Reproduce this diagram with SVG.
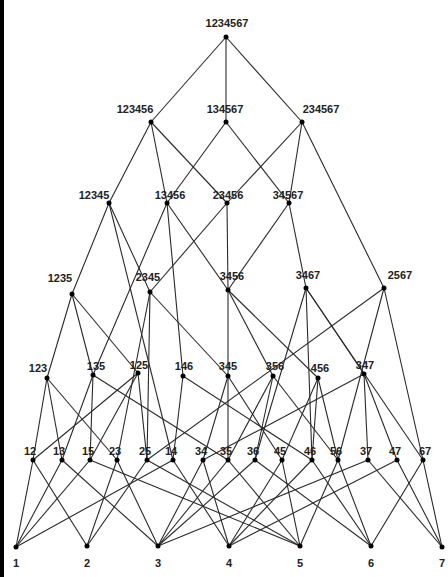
<svg xmlns="http://www.w3.org/2000/svg" width="448" height="577" viewBox="0 0 448 577">
<style>
.e line{stroke:#2a2a2a;stroke-width:1.1}
.n circle{fill:#000}
.n text{font-family:"Liberation Sans",Arial,sans-serif;font-size:11px;font-weight:bold;fill:#222;text-anchor:middle}
</style>
<rect width="448" height="577" fill="#fff"/>
<rect x="0" y="0" width="4" height="577" fill="#000"/>
<g id="connectors" class="e">
<line x1="226" y1="37" x2="151" y2="122"/><line x1="226" y1="37" x2="226" y2="122"/><line x1="226" y1="37" x2="302" y2="122"/>
<line x1="151" y1="122" x2="109" y2="203"/><line x1="151" y1="122" x2="167" y2="203"/><line x1="151" y1="122" x2="227" y2="203"/>
<line x1="226" y1="122" x2="167" y2="203"/><line x1="226" y1="122" x2="289" y2="203"/>
<line x1="302" y1="122" x2="227" y2="203"/><line x1="302" y1="122" x2="289" y2="203"/><line x1="302" y1="122" x2="384" y2="288"/>
<line x1="109" y1="203" x2="72" y2="294"/><line x1="109" y1="203" x2="150" y2="292"/><line x1="109" y1="203" x2="173" y2="460"/>
<line x1="167" y1="203" x2="228" y2="290"/><line x1="167" y1="203" x2="93" y2="375"/><line x1="167" y1="203" x2="183" y2="376"/>
<line x1="227" y1="203" x2="150" y2="292"/><line x1="227" y1="203" x2="228" y2="290"/>
<line x1="289" y1="203" x2="228" y2="290"/><line x1="289" y1="203" x2="306" y2="288"/>
<line x1="72" y1="294" x2="47" y2="378"/><line x1="72" y1="294" x2="93" y2="375"/><line x1="72" y1="294" x2="138" y2="373"/>
<line x1="150" y1="292" x2="228" y2="376"/><line x1="150" y1="292" x2="117" y2="460"/><line x1="150" y1="292" x2="147" y2="460"/>
<line x1="228" y1="290" x2="228" y2="376"/><line x1="228" y1="290" x2="273" y2="376"/><line x1="228" y1="290" x2="318" y2="378"/>
<line x1="306" y1="288" x2="364" y2="374"/><line x1="306" y1="288" x2="255" y2="460"/><line x1="306" y1="288" x2="312" y2="460"/><line x1="306" y1="288" x2="423" y2="460"/>
<line x1="384" y1="288" x2="147" y2="460"/><line x1="384" y1="288" x2="338" y2="460"/><line x1="384" y1="288" x2="423" y2="460"/>
<line x1="47" y1="378" x2="33" y2="460"/><line x1="47" y1="378" x2="62" y2="460"/><line x1="47" y1="378" x2="117" y2="460"/>
<line x1="93" y1="375" x2="62" y2="460"/><line x1="93" y1="375" x2="90" y2="460"/><line x1="93" y1="375" x2="228" y2="460"/>
<line x1="138" y1="373" x2="33" y2="460"/><line x1="138" y1="373" x2="90" y2="460"/><line x1="138" y1="373" x2="147" y2="460"/>
<line x1="183" y1="376" x2="173" y2="460"/><line x1="183" y1="376" x2="312" y2="460"/>
<line x1="228" y1="376" x2="203" y2="460"/><line x1="228" y1="376" x2="228" y2="460"/><line x1="228" y1="376" x2="282" y2="460"/>
<line x1="273" y1="376" x2="228" y2="460"/><line x1="273" y1="376" x2="255" y2="460"/><line x1="273" y1="376" x2="338" y2="460"/>
<line x1="318" y1="378" x2="282" y2="460"/><line x1="318" y1="378" x2="312" y2="460"/><line x1="318" y1="378" x2="338" y2="460"/>
<line x1="364" y1="374" x2="203" y2="460"/><line x1="364" y1="374" x2="368" y2="460"/><line x1="364" y1="374" x2="397" y2="460"/>
<line x1="33" y1="460" x2="16" y2="547"/><line x1="33" y1="460" x2="87" y2="546"/>
<line x1="62" y1="460" x2="16" y2="547"/><line x1="62" y1="460" x2="158" y2="546"/>
<line x1="90" y1="460" x2="16" y2="547"/><line x1="90" y1="460" x2="300" y2="546"/>
<line x1="117" y1="460" x2="87" y2="546"/><line x1="117" y1="460" x2="158" y2="546"/>
<line x1="147" y1="460" x2="87" y2="546"/><line x1="147" y1="460" x2="300" y2="546"/>
<line x1="173" y1="460" x2="16" y2="547"/><line x1="173" y1="460" x2="229" y2="546"/>
<line x1="203" y1="460" x2="158" y2="546"/><line x1="203" y1="460" x2="229" y2="546"/>
<line x1="228" y1="460" x2="158" y2="546"/><line x1="228" y1="460" x2="300" y2="546"/>
<line x1="255" y1="460" x2="158" y2="546"/><line x1="255" y1="460" x2="371" y2="546"/>
<line x1="282" y1="460" x2="229" y2="546"/><line x1="282" y1="460" x2="300" y2="546"/>
<line x1="312" y1="460" x2="229" y2="546"/><line x1="312" y1="460" x2="371" y2="546"/>
<line x1="338" y1="460" x2="300" y2="546"/><line x1="338" y1="460" x2="371" y2="546"/>
<line x1="368" y1="460" x2="158" y2="546"/><line x1="368" y1="460" x2="442" y2="547"/>
<line x1="397" y1="460" x2="229" y2="546"/><line x1="397" y1="460" x2="442" y2="547"/>
<line x1="423" y1="460" x2="371" y2="546"/><line x1="423" y1="460" x2="442" y2="547"/>
</g>
<g id="n1234567" class="n"><circle cx="226" cy="37" r="2.5"/><text x="227" y="27">1234567</text></g>
<g id="n123456" class="n"><circle cx="151" cy="122" r="2.5"/><text x="135" y="113">123456</text></g>
<g id="n134567" class="n"><circle cx="226" cy="122" r="2.5"/><text x="225" y="113">134567</text></g>
<g id="n234567" class="n"><circle cx="302" cy="122" r="2.5"/><text x="321" y="113">234567</text></g>
<g id="n12345" class="n"><circle cx="109" cy="203" r="2.5"/><text x="94" y="199">12345</text></g>
<g id="n13456" class="n"><circle cx="167" cy="203" r="2.5"/><text x="170" y="199">13456</text></g>
<g id="n23456" class="n"><circle cx="227" cy="203" r="2.5"/><text x="228" y="199">23456</text></g>
<g id="n34567" class="n"><circle cx="289" cy="203" r="2.5"/><text x="288" y="199">34567</text></g>
<g id="n1235" class="n"><circle cx="72" cy="294" r="2.5"/><text x="60" y="282">1235</text></g>
<g id="n2345" class="n"><circle cx="150" cy="292" r="2.5"/><text x="148" y="281">2345</text></g>
<g id="n3456" class="n"><circle cx="228" cy="290" r="2.5"/><text x="232" y="280">3456</text></g>
<g id="n3467" class="n"><circle cx="306" cy="288" r="2.5"/><text x="308" y="279">3467</text></g>
<g id="n2567" class="n"><circle cx="384" cy="288" r="2.5"/><text x="400" y="279">2567</text></g>
<g id="n123" class="n"><circle cx="47" cy="378" r="2.5"/><text x="38" y="372">123</text></g>
<g id="n135" class="n"><circle cx="93" cy="375" r="2.5"/><text x="96" y="370">135</text></g>
<g id="n125" class="n"><circle cx="138" cy="373" r="2.5"/><text x="139" y="369">125</text></g>
<g id="n146" class="n"><circle cx="183" cy="376" r="2.5"/><text x="184" y="370">146</text></g>
<g id="n345" class="n"><circle cx="228" cy="376" r="2.5"/><text x="228" y="370">345</text></g>
<g id="n356" class="n"><circle cx="273" cy="376" r="2.5"/><text x="275" y="370">356</text></g>
<g id="n456" class="n"><circle cx="318" cy="378" r="2.5"/><text x="320" y="372">456</text></g>
<g id="n347" class="n"><circle cx="364" cy="374" r="2.5"/><text x="365" y="369">347</text></g>
<g id="n12" class="n"><circle cx="33" cy="460" r="2.5"/><text x="30" y="455">12</text></g>
<g id="n13" class="n"><circle cx="62" cy="460" r="2.5"/><text x="59" y="455">13</text></g>
<g id="n15" class="n"><circle cx="90" cy="460" r="2.5"/><text x="88" y="455">15</text></g>
<g id="n23" class="n"><circle cx="117" cy="460" r="2.5"/><text x="115" y="455">23</text></g>
<g id="n25" class="n"><circle cx="147" cy="460" r="2.5"/><text x="145" y="455">25</text></g>
<g id="n14" class="n"><circle cx="173" cy="460" r="2.5"/><text x="171" y="455">14</text></g>
<g id="n34" class="n"><circle cx="203" cy="460" r="2.5"/><text x="201" y="455">34</text></g>
<g id="n35" class="n"><circle cx="228" cy="460" r="2.5"/><text x="226" y="455">35</text></g>
<g id="n36" class="n"><circle cx="255" cy="460" r="2.5"/><text x="253" y="455">36</text></g>
<g id="n45" class="n"><circle cx="282" cy="460" r="2.5"/><text x="280" y="455">45</text></g>
<g id="n46" class="n"><circle cx="312" cy="460" r="2.5"/><text x="310" y="455">46</text></g>
<g id="n56" class="n"><circle cx="338" cy="460" r="2.5"/><text x="336" y="455">56</text></g>
<g id="n37" class="n"><circle cx="368" cy="460" r="2.5"/><text x="366" y="455">37</text></g>
<g id="n47" class="n"><circle cx="397" cy="460" r="2.5"/><text x="395" y="455">47</text></g>
<g id="n67" class="n"><circle cx="423" cy="460" r="2.5"/><text x="425" y="455">67</text></g>
<g id="s1" class="n"><circle cx="16" cy="547" r="2.5"/><text x="16" y="567">1</text></g>
<g id="s2" class="n"><circle cx="87" cy="546" r="2.5"/><text x="87" y="567">2</text></g>
<g id="s3" class="n"><circle cx="158" cy="546" r="2.5"/><text x="158" y="567">3</text></g>
<g id="s4" class="n"><circle cx="229" cy="546" r="2.5"/><text x="229" y="567">4</text></g>
<g id="s5" class="n"><circle cx="300" cy="546" r="2.5"/><text x="300" y="567">5</text></g>
<g id="s6" class="n"><circle cx="371" cy="546" r="2.5"/><text x="371" y="567">6</text></g>
<g id="s7" class="n"><circle cx="442" cy="547" r="2.5"/><text x="442" y="567">7</text></g>
</svg>
